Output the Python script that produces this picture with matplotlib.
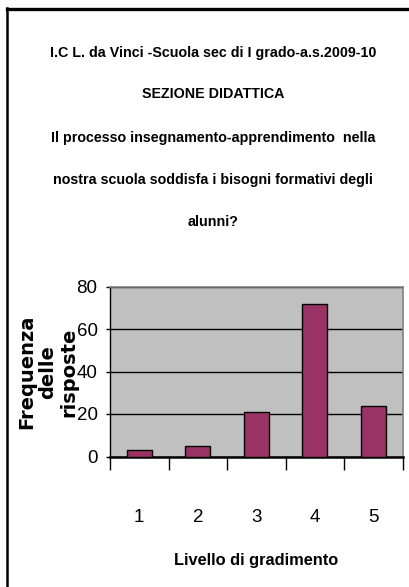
import matplotlib
matplotlib.use("Agg")
import matplotlib.pyplot as plt
from matplotlib import font_manager
from matplotlib.lines import Line2D

# ---- data ----
categories = ["1", "2", "3", "4", "5"]
frequencies = [3, 5, 21, 72, 24]
y_ticks = [0, 20, 40, 60, 80]
title_lines = [
    "I.C L. da Vinci -Scuola sec di I grado-a.s.2009-10",
    "SEZIONE DIDATTICA",
    "Il processo insegnamento-apprendimento  nella",
    "nostra scuola soddisfa i bisogni formativi degli",
    "alunni?",
]
x_label = "Livello di gradimento"
y_label = "Frequenza\ndelle\nrisposte"

def pick(fam, fallback):
    try:
        font_manager.findfont(font_manager.FontProperties(family=fam), fallback_to_default=False)
        return fam
    except Exception:
        return fallback

NARROW = pick("Liberation Sans Narrow", "Liberation Sans")

W, H = 409, 587
fig = plt.figure(figsize=(W / 100, H / 100), dpi=100)
fig.patch.set_facecolor("white")

# frame lines of the original chart box (top and left only visible)
fig.add_artist(Line2D([6.5 / W, 1.0], [1 - 8.5 / H, 1 - 8.5 / H], color="black", lw=2.4,
                      transform=fig.transFigure))
fig.add_artist(Line2D([7 / W, 7 / W], [0, 1 - 7.5 / H], color="black", lw=1.8,
                      transform=fig.transFigure))

# title lines
centers_y = [53, 94, 138, 180, 222]
for line, cy in zip(title_lines, centers_y):
    fig.text(213 / W, 1 - cy / H, line, ha="center", va="center",
             fontsize=10.3, fontweight="bold", family=NARROW, color="black")

left, right, top, bottom = 110, 402.5, 286.5, 456.5
ax = fig.add_axes([left / W, 1 - bottom / H, (right - left) / W, (bottom - top) / H])
ax.set_facecolor("#C0C0C0")

x = list(range(len(categories)))
ax.bar(x, frequencies, width=0.42, color="#993366", edgecolor="black", linewidth=1.0, zorder=3)

ax.set_xlim(-0.5, len(categories) - 0.5)
ax.set_ylim(0, 80)
ax.set_yticks(y_ticks)
ax.set_yticklabels([str(v) for v in y_ticks], family=NARROW, fontsize=13.5)
ax.yaxis.grid(True, color="black", linewidth=1.0, zorder=1)
ax.set_axisbelow(True)

ax.set_xticks([i - 0.5 for i in range(len(categories) + 1)])
ax.set_xticklabels([""] * (len(categories) + 1))
ax.set_xticks(x, minor=True)
ax.set_xticklabels(categories, minor=True, family=NARROW, fontsize=13.5)
ax.tick_params(axis="x", which="major", length=9, width=1.0, direction="out", color="black")
ax.tick_params(axis="x", which="minor", length=0, pad=38)
ax.tick_params(axis="y", which="major", length=3, width=1.0, direction="out", pad=6)

for s in ("top", "right"):
    ax.spines[s].set_color("#808080")
    ax.spines[s].set_linewidth(1.2)
ax.spines["left"].set_color("black")
ax.spines["left"].set_linewidth(1.0)
ax.spines["bottom"].set_color("black")
ax.spines["bottom"].set_linewidth(1.8)

fig.text(256 / W, 1 - 560 / H, x_label, ha="center", va="center",
         fontsize=11.8, fontweight="bold", family=NARROW)

fig.text(48 / W, 1 - 372 / H, y_label, ha="center", va="center", rotation=90,
         multialignment="center", linespacing=1.12,
         fontsize=14, fontweight="bold", family="DejaVu Sans")

fig.savefig("out.png", dpi=100, facecolor="white")
